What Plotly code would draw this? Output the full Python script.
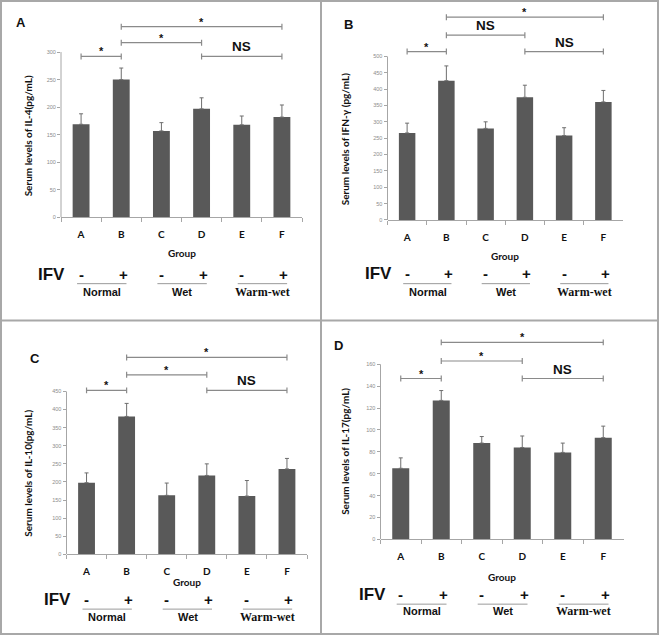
import plotly.graph_objects as go

W, H = 659, 638

# ---------------- data ----------------
groups = ["A", "B", "C", "D", "E", "F"]
ifv_signs = ["-", "+", "-", "+", "-", "+"]
conditions = ["Normal", "Wet", "Warm-wet"]
condition_members = [(0, 1), (2, 3), (4, 5)]

il4_mean = [169, 250, 157, 197, 168, 182]
il4_err = [19, 21, 15, 20, 16, 22]
ifng_mean = [266, 426, 280, 375, 258, 361]
ifng_err = [30, 45, 20, 37, 24, 35]
il10_mean = [198, 381, 163, 218, 161, 236]
il10_err = [27, 36, 34, 32, 43, 29]
il17_mean = [65, 127, 88, 84, 79.5, 93]
il17_err = [9.5, 9, 6, 10.5, 8.5, 10.5]

panel_letters = ["A", "B", "C", "D"]
y_titles = ["Serum levels of IL-4(pg/mL)", "Serum levels of IFN-γ (pg/mL)",
            "Serum levels of IL-10(pg/mL)", "Serum levels of IL-17(pg/mL)"]
y_tick_max = [300, 500, 450, 160]
y_tick_step = [50, 50, 50, 20]

cmp_pairs = [(0, 1), (1, 3), (1, 5), (3, 5)]
il4_cmp_y = [292, 317, 346, 292]
il4_cmp_lab = ["*", "*", "*", "NS"]
ifng_cmp_y = [515, 565, 620, 515]
ifng_cmp_lab = ["*", "NS", "*", "NS"]
il10_cmp_y = [453, 496, 544, 453]
il10_cmp_lab = ["*", "*", "*", "NS"]
il17_cmp_y = [147, 163, 180, 147]
il17_cmp_lab = ["*", "*", "*", "NS"]

means = [il4_mean, ifng_mean, il10_mean, il17_mean]
errs = [il4_err, ifng_err, il10_err, il17_err]
cmp_ys = [il4_cmp_y, ifng_cmp_y, il10_cmp_y, il17_cmp_y]
cmp_labs = [il4_cmp_lab, ifng_cmp_lab, il10_cmp_lab, il17_cmp_lab]

# ---------------- layout (pixel geometry) ----------------
frames = [
    dict(x0=61, x1=302, yz=218.5, yt=52.3, top=4, letter=(21, 23), ytitle=(28, 137),
         group_y=254, ifv=(51, 276), line_y=285, cond_y=293),
    dict(x0=387.5, x1=623, yz=221, yt=56.7, top=4, letter=(348, 25), ytitle=(345, 140),
         group_y=257, ifv=(378, 275), line_y=285, cond_y=293),
    dict(x0=66.5, x1=307, yz=557, yt=393.3, top=326, letter=(35, 360), ytitle=(28, 476),
         group_y=585, ifv=(57, 602), line_y=612, cond_y=620),
    dict(x0=380.5, x1=623.5, yz=542, yt=366, top=326, letter=(338, 347), ytitle=(345, 454),
         group_y=580, ifv=(372, 597), line_y=607, cond_y=614),
]

AX_COL = "#a6a6a6"
BAR_COL = "#595959"
TXT = "#111111"
SANS = "Liberation Sans, Arial, sans-serif"
CAL = "Lato, Carlito, sans-serif"
SERIF = "Liberation Serif, DejaVu Serif, serif"


def px(x):
    return x / W


def py(y):
    return 1 - y / H


fig = go.Figure()
shapes = []
annotations = []
layout_axes = {}

for k in range(4):
    f = frames[k]
    n = "" if k == 0 else str(k + 1)
    xr, yr = "x" + n, "y" + n
    ppu = (f["yz"] - f["yt"]) / y_tick_max[k]
    ymax = y_tick_max[k] + (f["yt"] - f["top"]) / ppu

    fig.add_trace(go.Bar(
        x=groups, y=means[k], xaxis=xr, yaxis=yr, width=0.42,
        marker=dict(color=BAR_COL, line=dict(width=0)),
        error_y=dict(type="data", symmetric=False, array=errs[k],
                     arrayminus=[0] * len(groups), color="#6e6e6e",
                     thickness=1, width=2),
        showlegend=False, hoverinfo="skip"))

    layout_axes["xaxis" + n] = dict(
        domain=[px(f["x0"]), px(f["x1"])], anchor=yr, type="category",
        categoryorder="array", categoryarray=groups, range=[-0.5, 5.5],
        showline=True, linecolor=AX_COL, linewidth=1, ticks="outside",
        tickson="boundaries", ticklen=4, tickcolor=AX_COL, showgrid=False,
        zeroline=False, ticklabelstandoff=8,
        tickfont=dict(family=CAL, size=10, color=TXT, weight="bold"))
    layout_axes["yaxis" + n] = dict(
        domain=[py(f["yz"]), py(f["top"])], anchor=xr, range=[0, ymax],
        showline=False, showgrid=False, zeroline=False, ticks="outside",
        ticklen=3, tickcolor=AX_COL,
        tickvals=list(range(0, y_tick_max[k] + 1, y_tick_step[k])),
        tickfont=dict(family=SANS, size=5.5, color="#8c8c8c"))

    # y-axis line (only up to the top tick)
    shapes.append(dict(type="line", xref=xr + " domain", yref=yr, x0=0, x1=0,
                       y0=0, y1=y_tick_max[k], line=dict(color=AX_COL, width=1)))

    # significance brackets
    tick_h = 3 / ppu
    for (i, j), yv, lab in zip(cmp_pairs, cmp_ys[k], cmp_labs[k]):
        lc = dict(color="#8a8a8a", width=1.2)
        shapes.append(dict(type="line", xref=xr, yref=yr, x0=i, x1=j, y0=yv, y1=yv, line=lc))
        for xe in (i, j):
            shapes.append(dict(type="line", xref=xr, yref=yr, x0=xe, x1=xe,
                               y0=yv - tick_h, y1=yv + tick_h, line=lc))
        if lab == "*":
            annotations.append(dict(xref=xr, yref=yr, x=(i + j) / 2, y=yv, text="<b>*</b>",
                                    showarrow=False, yanchor="bottom", yshift=-3,
                                    font=dict(family=SANS, size=11, color=TXT)))
        else:
            annotations.append(dict(xref=xr, yref=yr, x=(i + j) / 2, y=yv, text="<b>NS</b>",
                                    showarrow=False, yanchor="bottom", yshift=0,
                                    font=dict(family=SANS, size=13.5, color=TXT)))

    # panel letter
    annotations.append(dict(xref="paper", yref="paper", x=px(f["letter"][0]), y=py(f["letter"][1]),
                            text="<b>" + panel_letters[k] + "</b>", showarrow=False,
                            xanchor="center", yanchor="middle",
                            font=dict(family=SANS, size=13, color=TXT)))
    # y title
    annotations.append(dict(xref="paper", yref="paper", x=px(f["ytitle"][0]), y=py(f["ytitle"][1]),
                            text="<b>" + y_titles[k] + "</b>", showarrow=False, textangle=-90,
                            xanchor="center", yanchor="middle",
                            font=dict(family=CAL, size=10, color=TXT)))
    # x title
    annotations.append(dict(xref=xr + " domain", yref="paper", x=0.5, y=py(f["group_y"]),
                            text="<b>Group</b>", showarrow=False, xanchor="center", yanchor="middle",
                            font=dict(family=CAL, size=10, color=TXT)))
    # IFV row
    annotations.append(dict(xref="paper", yref="paper", x=px(f["ifv"][0]), y=py(f["ifv"][1]),
                            text="<b>IFV</b>", showarrow=False, xanchor="center", yanchor="middle",
                            font=dict(family=SANS, size=17, color=TXT)))
    for i, s in enumerate(ifv_signs):
        annotations.append(dict(xref=xr, yref="paper", x=i, y=py(f["ifv"][1]),
                                text="<b>" + s + "</b>", showarrow=False, xanchor="center",
                                yanchor="middle", xshift=(2 if s == "+" else 0),
                                font=dict(family=SANS, size=15, color=TXT)))
    # condition groups
    for (a, b), cname in zip(condition_members, conditions):
        shapes.append(dict(type="line", xref=xr, yref="paper", x0=a - 0.1, x1=b + 0.13,
                           y0=py(f["line_y"]), y1=py(f["line_y"]),
                           line=dict(color="#9a9a9a", width=1)))
        serif = cname == "Warm-wet"
        annotations.append(dict(xref=xr, yref="paper", x=(a + b) / 2 + 0.02, y=py(f["cond_y"]),
                                text="<b>" + cname + "</b>", showarrow=False,
                                xanchor="center", yanchor="middle",
                                font=dict(family=(SERIF if serif else SANS),
                                          size=(12 if serif else 11), color=TXT)))

# outer frame and dividers
FR = dict(color="#a8a8a8", width=2)
shapes.append(dict(type="rect", xref="paper", yref="paper", x0=px(1), x1=px(658), y0=py(1), y1=py(637),
                   line=FR, fillcolor="rgba(0,0,0,0)"))
shapes.append(dict(type="line", xref="paper", yref="paper", x0=px(321), x1=px(321), y0=py(1), y1=py(637), line=FR))
shapes.append(dict(type="line", xref="paper", yref="paper", x0=px(1), x1=px(658), y0=py(322), y1=py(322), line=FR))

fig.update_layout(
    width=W, height=H, margin=dict(l=0, r=0, t=0, b=0),
    paper_bgcolor="white", plot_bgcolor="white", showlegend=False,
    bargap=0.58, shapes=shapes, annotations=annotations, **layout_axes)

fig.write_html("out.html", config={"displayModeBar": False},
               post_script="document.body.style.margin='0';document.body.style.padding='0';"
                           "document.documentElement.style.overflow='hidden';")
